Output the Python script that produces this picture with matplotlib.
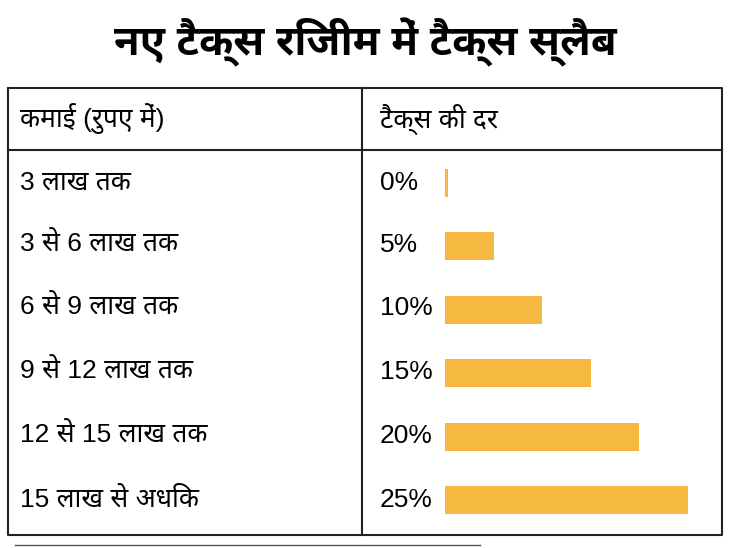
import matplotlib
matplotlib.use("Agg")
import matplotlib.pyplot as plt
from matplotlib import font_manager
from matplotlib.ft2font import FT2Font

title = "नए टैक्स रिजीम में टैक्स स्लैब"
headers = ["कमाई (रुपए में)", "टैक्स की दर"]
slabs = ["3 लाख तक", "3 से 6 लाख तक", "6 से 9 लाख तक",
         "9 से 12 लाख तक", "12 से 15 लाख तक", "15 लाख से अधिक"]
rates = [0, 5, 10, 15, 20, 25]

# find fonts that have Devanagari glyphs, prefer proper sans faces
cands = []
for f in font_manager.fontManager.ttflist:
    try:
        if ord("क") in FT2Font(f.fname).get_charmap():
            cands.append(f.name)
    except Exception:
        pass

def score(n):
    n2 = n.lower()
    s = 0
    for i, key in enumerate(["noto sans devanagari", "lohit", "mukta", "hind", "gargi", "kalimati", "sans"]):
        if key in n2:
            s = 10 - i
            break
    if "mono" in n2 or "free" in n2:
        s -= 5
    return -s

cands = sorted(set(cands), key=score)
plt.rcParams["font.family"] = ["Liberation Sans"] + cands[:1] + ["DejaVu Sans"]

fig = plt.figure(figsize=(7.3, 5.48), dpi=100)
ax = fig.add_axes([0, 0, 1, 1])
ax.set_xlim(0, 730)
ax.set_ylim(548, 0)
ax.axis("off")

ax.text(365, 42, title, ha="center", va="center", fontsize=30, fontweight="bold")

lw = 1.5
ax.plot([8, 722, 722, 8, 8], [88, 88, 535, 535, 88], color="#222", lw=lw)
ax.plot([8, 722], [150, 150], color="#222", lw=lw)
ax.plot([362, 362], [88, 535], color="#222", lw=lw)
ax.plot([15, 480], [545, 545], color="#555", lw=1)

ax.text(20, 119, headers[0], va="center", fontsize=19)
ax.text(380, 119, headers[1], va="center", fontsize=19)

row_y = [183, 245, 308, 372, 436, 500]
for y, s, r in zip(row_y, slabs, rates):
    ax.text(20, y, s, va="center", fontsize=19)
    ax.text(380, y, f"{r}%", va="center", fontsize=19)

# bars in their own axes: x 445..688 px, rows 183..500 px
bx = fig.add_axes([445 / 730, 1 - 532 / 548, (688 - 445) / 730, (532 - 151) / 548])
bx.barh(range(len(rates)), [max(r, 0.3) for r in rates], height=0.44, color="#f5b942")
bx.set_xlim(0, 25)
bx.set_ylim(5.5, -0.5)
bx.axis("off")

fig.savefig("out.png", dpi=100)
